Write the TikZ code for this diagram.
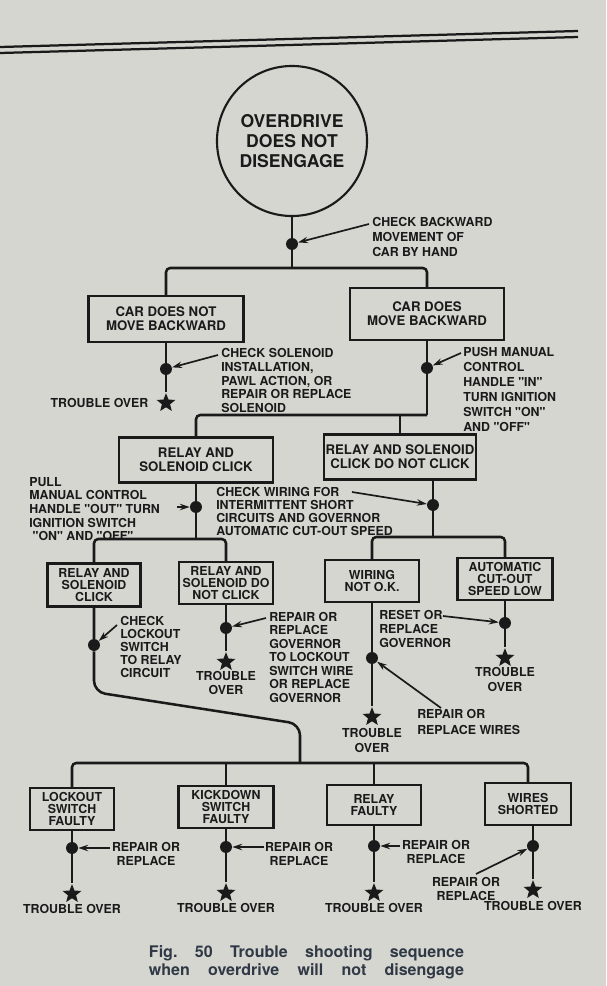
\documentclass[tikz,border=0pt]{standalone}
\usepackage{fontspec}
\usetikzlibrary{shapes.geometric, arrows.meta, positioning}
\newfontfamily\chartsans{TeX Gyre Heros}
\definecolor{PaperColor}{HTML}{D6D6D0}
\definecolor{InkColor}{HTML}{1A1A1A}
\definecolor{CaptionColor}{HTML}{2F3845}

\begin{document}
\begin{tikzpicture}[
    x=0.025cm, y=-0.025cm,
    flow/.style={line width=1.8pt, draw=InkColor, rounded corners=3pt},
    stepbox/.style={rectangle, draw=InkColor, line width=1.5pt, align=center, inner sep=0pt, text=InkColor, font=\chartsans\bfseries\fontsize{9.4}{10}\selectfont},
    smallbox/.style={stepbox, font=\chartsans\bfseries\fontsize{8.8}{8.8}\selectfont},
    titlenode/.style={circle, draw=InkColor, line width=1.5pt, minimum size=3.75cm, align=center, inner sep=0pt, text=InkColor, font=\chartsans\bfseries\fontsize{12.5}{14.2}\selectfont},
    joint/.style={circle, fill=InkColor, inner sep=0pt, minimum size=8.5pt},
    endstar/.style={star, star points=5, star point ratio=2.3, fill=InkColor, inner sep=0pt, minimum size=14pt},
    note/.style={anchor=north west, align=left, inner sep=0pt, text=InkColor, font=\chartsans\bfseries\fontsize{8.8}{#1}\selectfont},
    note/.default=10,
    endnote/.style={align=center, inner sep=0pt, text=InkColor, font=\chartsans\bfseries\fontsize{8.8}{10.2}\selectfont},
    pointer/.style={-{Stealth[length=7pt,width=4.5pt]}, line width=1.2pt, draw=InkColor},
    captiontext/.style={align=center, inner sep=0pt, text=CaptionColor, font=\chartsans\bfseries\frenchspacing\fontsize{11.4}{12.8}\selectfont}
  ]
  \useasboundingbox (0,0) rectangle (606,986);
  \fill[PaperColor] (0,0) rectangle (606,986);
  % rule at the head of the page
  \draw[line width=1.6pt, InkColor] (0,47) -- (578,31);
  \draw[line width=1.6pt, InkColor] (0,53) -- (578,37);

  % Nodes
  \node[titlenode] (title) at (292,141) {OVERDRIVE\\DOES NOT\\DISENGAGE};
  \node[joint] (dot1) at (292,244) {};
  \coordinate (fork1) at (292,268);

  \node[stepbox, minimum width=3.875cm, minimum height=1.15cm] (noMove) at (166,319) {CAR DOES NOT\\MOVE BACKWARD};
  \node[stepbox, minimum width=3.85cm, minimum height=1.3cm] (doesMove) at (427,314) {CAR DOES\\MOVE BACKWARD};
  \node[joint] (dotA) at (166,369) {};
  \node[endstar] (starA) at (166,403) {};
  \node[endnote, left=0.28cm of starA] (overA) {TROUBLE OVER};
  \node[joint] (dotB) at (427,368) {};
  \coordinate (fork2) at (427,415);

  \node[stepbox, minimum width=3.85cm, minimum height=1.125cm] (clickA) at (196,460) {RELAY AND\\SOLENOID CLICK};
  \node[stepbox, minimum width=3.8cm, minimum height=1.125cm] (noClickA) at (400,457) {RELAY AND SOLENOID\\CLICK DO NOT CLICK};
  \node[joint] (dotC) at (196,507) {};
  \coordinate (fork3) at (196,539);
  \node[joint] (dotD) at (433,505) {};
  \coordinate (fork4) at (433,537);

  \node[smallbox, minimum width=2.325cm, minimum height=1.075cm] (clickB) at (94,585) {RELAY AND\\SOLENOID\\CLICK};
  \node[smallbox, minimum width=2.35cm, minimum height=1.05cm] (noClickB) at (226,583) {RELAY AND\\SOLENOID DO\\NOT CLICK};
  \node[smallbox, minimum width=2.35cm, minimum height=1.05cm] (wiring) at (372,581) {WIRING\\NOT O.K.};
  \node[smallbox, minimum width=2.375cm, minimum height=1.05cm] (cutout) at (505,579) {AUTOMATIC\\CUT-OUT\\SPEED LOW};

  \node[joint] (dotE) at (94,645) {};
  \coordinate (bendE1) at (94,692);
  \coordinate (bendE2) at (300,724);
  \coordinate (fork5) at (300,763);
  \node[joint] (dotF) at (226,628) {};
  \node[endstar] (starF) at (226,662) {};
  \node[endnote, below=0.1cm of starF] (overF) {TROUBLE\\OVER};
  \node[joint] (dotG) at (372,658) {};
  \node[endstar] (starG) at (372,717) {};
  \node[endnote, below=0.17cm of starG] (overG) {TROUBLE\\OVER};
  \node[joint] (dotH) at (505,623) {};
  \node[endstar] (starH) at (505,658) {};
  \node[endnote, below=0.12cm of starH] (overH) {TROUBLE\\OVER};

  \node[smallbox, minimum width=2.1cm, minimum height=1.05cm] (lockout) at (72,809) {LOCKOUT\\SWITCH\\FAULTY};
  \node[smallbox, minimum width=2.375cm, minimum height=1.05cm] (kickdown) at (226,807) {KICKDOWN\\SWITCH\\FAULTY};
  \node[smallbox, minimum width=2.35cm, minimum height=1.0cm] (relayF) at (374,805) {RELAY\\FAULTY};
  \node[smallbox, minimum width=2.15cm, minimum height=1.05cm] (wires) at (528,804) {WIRES\\SHORTED};

  \node[joint] (dotL) at (72,848) {};
  \node[endstar] (starL) at (72,894) {};
  \node[endnote, below=0.14cm of starL] (overL) {TROUBLE OVER};
  \node[joint] (dotK) at (226,847) {};
  \node[endstar] (starK) at (226,893) {};
  \node[endnote, below=0.14cm of starK] (overK) {TROUBLE OVER};
  \node[joint] (dotR) at (374,846) {};
  \node[endstar] (starR) at (374,893) {};
  \node[endnote, below=0.14cm of starR] (overR) {TROUBLE OVER};
  \node[joint] (dotW) at (533,846) {};
  \node[endstar] (starW) at (533,890) {};
  \node[endnote, below=0.17cm of starW] (overW) {TROUBLE OVER};

  % Remarks
  \node[note=10.7] (lblBack) at (372,217) {CHECK BACKWARD\\MOVEMENT OF\\CAR BY HAND};
  \node[note=9.8] (lblSol) at (221,348) {CHECK SOLENOID\\INSTALLATION,\\PAWL ACTION, OR\\REPAIR OR REPLACE\\SOLENOID};
  \node[note=10.7] (lblPush) at (463,347) {PUSH MANUAL\\CONTROL\\HANDLE "IN"\\TURN IGNITION\\SWITCH "ON"\\AND "OFF"};
  \node[note=9.7] (lblPull) at (29,477) {PULL\\MANUAL CONTROL\\HANDLE "OUT" TURN\\IGNITION SWITCH\\\ "ON" AND "OFF"};
  \node[note=9.2] (lblWire) at (216,487) {CHECK WIRING FOR\\INTERMITTENT SHORT\\CIRCUITS AND GOVERNOR\\AUTOMATIC CUT-OUT SPEED};
  \node[note=9.3] (lblLock) at (120,616) {CHECK\\LOCKOUT\\SWITCH\\TO RELAY\\CIRCUIT};
  \node[note=9.6] (lblGov) at (269,612) {REPAIR OR\\REPLACE\\GOVERNOR\\TO LOCKOUT\\SWITCH WIRE\\OR REPLACE\\GOVERNOR};
  \node[note] (lblReset) at (379,610) {RESET OR\\REPLACE\\GOVERNOR};
  \node[note=11.4] (lblWires) at (417,709) {REPAIR OR\\REPLACE WIRES};
  \node[endnote] (lblB1) at (146,854) {REPAIR OR\\REPLACE};
  \node[endnote] (lblB2) at (299,854) {REPAIR OR\\REPLACE};
  \node[endnote] (lblB3) at (436,852) {REPAIR OR\\REPLACE};
  \node[endnote] (lblB4) at (466,889) {REPAIR OR\\REPLACE};

  \node[captiontext] (caption) at (306.5,962) {\makebox[7.875cm][s]{Fig. 50 Trouble shooting sequence}\\\makebox[7.875cm][s]{when overdrive will not disengage}};

  % Connections
  \draw[flow] (title) -- (dot1) -- (fork1);
  \draw[flow] (noMove.north) |- (fork1) -| (doesMove.north);
  \draw[flow] (noMove) -- (dotA) -- (starA);
  \draw[flow] (doesMove) -- (dotB) -- (fork2);
  \draw[flow] (clickA.north) |- (fork2);
  \draw[flow] (noClickA.north) -- (noClickA.north |- fork2);
  \draw[flow] (clickA) -- (dotC) -- (fork3);
  \draw[flow] (clickB.north) |- (fork3) -| (noClickB.north);
  \draw[flow] (dotD |- noClickA.south) -- (dotD) -- (fork4);
  \draw[flow] (wiring.north) |- (fork4) -| (cutout.north);
  \draw[flow, rounded corners=8pt] (clickB) -- (dotE) -- (bendE1) -- (bendE2) -- (fork5);
  \draw[flow] (noClickB) -- (dotF) -- (starF);
  \draw[flow] (wiring) -- (dotG) -- (starG);
  \draw[flow] (cutout) -- (dotH) -- (starH);
  \draw[flow] (lockout.north) |- (fork5) -| (wires.north);
  \draw[flow] (kickdown.north) -- (kickdown.north |- fork5);
  \draw[flow] (relayF.north) -- (relayF.north |- fork5);
  \draw[flow] (lockout) -- (dotL) -- (starL);
  \draw[flow] (kickdown) -- (dotK) -- (starK);
  \draw[flow] (relayF) -- (dotR) -- (starR);
  \draw[flow] (dotW |- wires.south) -- (dotW) -- (starW);

  % Pointers
  \coordinate (tailBack) at (369,224);
  \coordinate (tailSol) at (218,355);
  \coordinate (tailPush) at (461,353);
  \coordinate (tailPull) at (177,507);
  \coordinate (tailWire) at (352,492);
  \coordinate (tailLock) at (117,625);
  \coordinate (tailGov) at (266,618);
  \coordinate (tailReset) at (443,616);
  \coordinate (tailWires) at (441,708);
  \coordinate (tailB1) at (110,848);
  \coordinate (tailB2) at (264,847);
  \coordinate (tailB3) at (400,846);
  \coordinate (tailB4) at (476,874);
  \draw[pointer] (tailBack) -- (dot1);
  \draw[pointer] (tailSol) -- (dotA);
  \draw[pointer] (tailPush) -- (dotB);
  \draw[pointer] (tailPull) -- (dotC);
  \draw[pointer] (tailWire) -- (dotD);
  \draw[pointer] (tailLock) -- (dotE);
  \draw[pointer] (tailGov) -- (dotF);
  \draw[pointer] (tailReset) -- (dotH);
  \draw[pointer] (tailWires) -- (dotG);
  \draw[pointer] (tailB1) -- (dotL);
  \draw[pointer] (tailB2) -- (dotK);
  \draw[pointer] (tailB3) -- (dotR);
  \draw[pointer] (tailB4) -- (dotW);
\end{tikzpicture}
\end{document}
